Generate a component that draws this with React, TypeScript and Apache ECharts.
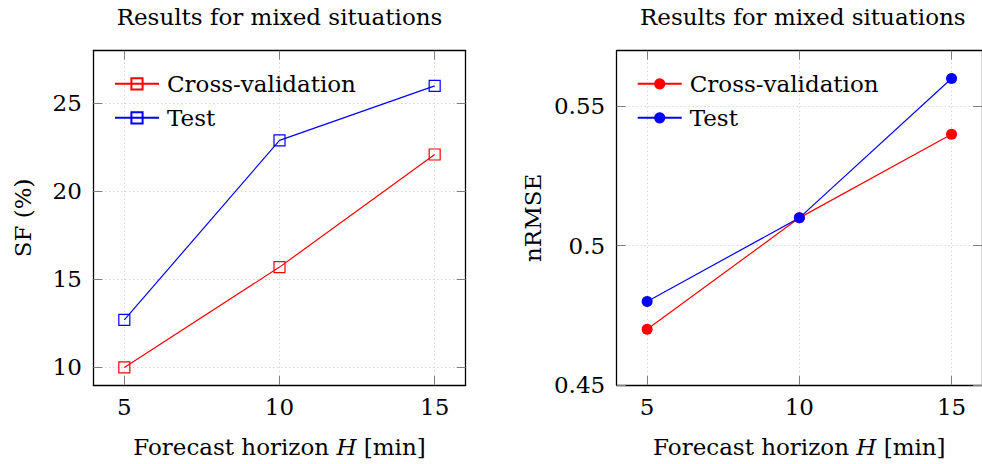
import React, { useEffect, useRef } from 'react';
import * as echarts from 'echarts';

const FONT = '"DejaVu Serif", serif';
const FS = 23;

const horizons = [5, 10, 15];
const sfCrossValidation = [10.0, 15.7, 22.1];
const sfTest = [12.7, 22.9, 26.0];
const nrmseCrossValidation = [0.47, 0.51, 0.54];
const nrmseTest = [0.48, 0.51, 0.56];
const xTicks = [5, 10, 15];
const sfTicks = [10, 15, 20, 25];
const nrmseTicks = [0.45, 0.5, 0.55];
const titleText = 'Results for mixed situations';
const seriesNames = ['Cross-validation', 'Test'];
const sfName = 'SF (%)';
const nrmseName = 'nRMSE';
const xName = 'Forecast horizon {i|H} [min]';

const RED = '#ff0000';
const BLUE = '#0000ff';

const pairs = (ys: number[]) => horizons.map((h, i) => [h, ys[i]]);

const axisLine = { show: true, onZero: false, lineStyle: { color: '#000', width: 1.3 } };
const tickStyle = (vals: number[]) => ({
  show: true,
  inside: true,
  length: 9,
  customValues: vals,
  lineStyle: { color: '#7f7f7f', width: 1 },
});
const splitLine = { show: true, lineStyle: { color: '#c4c4c4', width: 1, type: [1, 3] as number[] } };
const labelStyle = (vals: number[], margin: number) => ({
  show: true,
  customValues: vals,
  margin,
  color: '#000',
  fontFamily: FONT,
  fontSize: FS,
});

function xAxes(gridIndex: number) {
  return [
    {
      type: 'value',
      gridIndex,
      position: 'bottom',
      min: 4,
      max: 16,
      axisLine,
      axisTick: tickStyle(xTicks),
      axisLabel: labelStyle(xTicks, 10),
      splitLine,
      name: xName,
      nameLocation: 'middle',
      nameGap: 50,
      nameTextStyle: {
        color: '#000',
        fontFamily: FONT,
        fontSize: FS,
        rich: { i: { fontStyle: 'italic', fontFamily: FONT, fontSize: FS, color: '#000' } },
      },
    },
    {
      type: 'value',
      gridIndex,
      position: 'top',
      min: 4,
      max: 16,
      axisLine,
      axisTick: tickStyle(xTicks),
      axisLabel: { show: false },
      splitLine: { show: false },
    },
  ];
}

function yAxes(gridIndex: number, min: number, max: number, ticks: number[], name: string, nameGap: number) {
  return [
    {
      type: 'value',
      gridIndex,
      position: 'left',
      min,
      max,
      axisLine,
      axisTick: tickStyle(ticks),
      axisLabel: labelStyle(ticks, 11.5),
      splitLine,
      name,
      nameLocation: 'middle',
      nameGap,
      nameTextStyle: { color: '#000', fontFamily: FONT, fontSize: FS },
    },
    {
      type: 'value',
      gridIndex,
      position: 'right',
      min,
      max,
      axisLine,
      axisTick: tickStyle(ticks),
      axisLabel: { show: false },
      splitLine: { show: false },
    },
  ];
}

export default function App() {
  const ref = useRef<HTMLDivElement>(null);
  useEffect(() => {
    if (!ref.current) return;
    const chart = echarts.init(ref.current, undefined, { renderer: 'svg' });
    const legendBase = {
      orient: 'vertical',
      itemWidth: 44,
      itemHeight: 14,
      itemGap: 11,
      padding: 0,
      selectedMode: false,
      textStyle: { color: '#000', fontFamily: FONT, fontSize: FS, lineHeight: 22, padding: [0, 0, 0, 3] },
    };
    chart.setOption({
      animation: false,
      backgroundColor: '#fff',
      grid: [
        { left: 93.3, top: 50.7, width: 372.4, height: 334.3, containLabel: false },
        { left: 616.7, top: 50.7, width: 372.3, height: 334.3, containLabel: false },
      ],
      xAxis: [...xAxes(0), ...xAxes(1)],
      yAxis: [
        ...yAxes(0, 9, 28, sfTicks, sfName, 59),
        ...yAxes(1, 0.45, 0.57, nrmseTicks, nrmseName, 72),
      ],
      legend: [
        { ...legendBase, left: 114, top: 72.3, data: [seriesNames[0], seriesNames[1]] },
        {
          ...legendBase,
          left: 636.7,
          top: 72.3,
          data: ['R:' + seriesNames[0], 'R:' + seriesNames[1]],
          formatter: (n: string) => n.replace(/^R:/, ''),
        },
      ],
      graphic: [
        { type: 'text', x: 279.5, y: 17, style: { text: titleText, fill: '#000', font: `${FS}px ${FONT}`, align: 'center', verticalAlign: 'middle' } },
        { type: 'text', x: 802.8, y: 17, style: { text: titleText, fill: '#000', font: `${FS}px ${FONT}`, align: 'center', verticalAlign: 'middle' } },
      ],
      series: [
        {
          name: seriesNames[0],
          type: 'line',
          xAxisIndex: 0,
          yAxisIndex: 0,
          data: pairs(sfCrossValidation),
          symbol: 'rect',
          symbolSize: 11,
          lineStyle: { color: RED, width: 1.2 },
          itemStyle: { color: 'rgba(255,255,255,0)', borderColor: RED, borderWidth: 1.2 },
        },
        {
          name: seriesNames[1],
          type: 'line',
          xAxisIndex: 0,
          yAxisIndex: 0,
          data: pairs(sfTest),
          symbol: 'rect',
          symbolSize: 11,
          lineStyle: { color: BLUE, width: 1.2 },
          itemStyle: { color: 'rgba(255,255,255,0)', borderColor: BLUE, borderWidth: 1.2 },
        },
        {
          name: 'R:' + seriesNames[0],
          type: 'line',
          xAxisIndex: 2,
          yAxisIndex: 2,
          data: pairs(nrmseCrossValidation),
          symbol: 'circle',
          symbolSize: 11,
          lineStyle: { color: RED, width: 1.2 },
          itemStyle: { color: RED },
        },
        {
          name: 'R:' + seriesNames[1],
          type: 'line',
          xAxisIndex: 2,
          yAxisIndex: 2,
          data: pairs(nrmseTest),
          symbol: 'circle',
          symbolSize: 11,
          lineStyle: { color: BLUE, width: 1.2 },
          itemStyle: { color: BLUE },
        },
      ],
    });
    return () => chart.dispose();
  }, []);
  return <div ref={ref} style={{ position: 'absolute', left: 0, top: 0, width: 982, height: 464 }} />;
}
